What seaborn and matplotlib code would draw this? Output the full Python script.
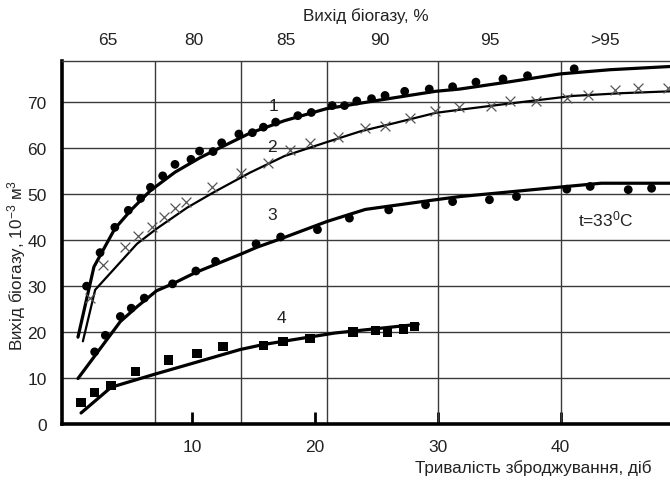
import seaborn as sns
import matplotlib.pyplot as plt
import pandas as pd

# точки експерименту (діб, 10^-3 м3)
s1_x = [1.4, 2.5, 3.7, 4.8, 5.8, 6.6, 7.6, 8.6, 9.9, 10.6, 11.7, 12.4, 13.8, 14.9, 15.8, 16.8,
        18.6, 19.7, 21.4, 22.4, 23.4, 24.6, 25.7, 27.3, 29.3, 31.2, 33.1, 35.3, 37.3, 41.1]
s1_y = [30.0, 37.3, 42.8, 46.5, 49.1, 51.5, 54.0, 56.5, 57.6, 59.4, 59.3, 61.2, 63.1, 63.4, 64.6, 65.7,
        67.1, 67.8, 69.3, 69.3, 70.3, 70.8, 71.5, 72.4, 72.9, 73.4, 74.4, 75.1, 75.8, 77.3]

s2_x = [1.7, 2.7, 4.55, 5.6, 6.7, 7.7, 8.6, 9.5, 11.65, 14.0, 16.2, 18.0, 19.6, 21.9, 24.1, 25.7,
        27.7, 29.8, 31.7, 34.3, 35.9, 38.0, 40.5, 42.2, 44.4, 46.3, 48.7]
s2_y = [27.4, 34.7, 38.5, 41.0, 42.8, 45.0, 46.9, 48.4, 51.5, 54.7, 56.9, 59.6, 61.2, 62.4, 64.4, 64.9,
        66.5, 68.2, 69.0, 69.3, 70.2, 70.2, 70.9, 71.6, 72.6, 73.1, 73.1]

s3_x = [2.06, 2.93, 4.15, 5.04, 6.1, 8.4, 10.3, 11.9, 15.2, 17.2, 20.2, 22.8, 26.0, 29.0, 31.2,
        34.2, 36.4, 40.5, 42.4, 45.5, 47.4]
s3_y = [15.7, 19.3, 23.4, 25.2, 27.4, 30.5, 33.3, 35.4, 39.2, 40.7, 42.3, 44.8, 46.6, 47.7, 48.4,
        48.8, 49.5, 51.1, 51.7, 51.0, 51.3]

s4_x = [0.95, 2.06, 3.4, 5.37, 8.07, 10.4, 12.5, 15.8, 17.4, 19.6, 23.1, 24.9, 25.9, 27.2, 28.1]
s4_y = [4.7, 6.8, 8.4, 11.4, 13.9, 15.3, 16.8, 17.1, 17.9, 18.6, 20.0, 20.4, 20.0, 20.7, 21.2]

# апроксимуючі криві
l1_x = [0.7, 2.0, 3.7, 5.0, 6.6, 8.6, 10.6, 12.4, 14.7, 17.5, 20.9, 25.5, 29.8, 31.8, 35.9, 40.0, 44.0, 48.9]
l1_y = [18.9, 34.2, 42.5, 46.5, 50.8, 54.8, 57.9, 60.3, 63.3, 66.0, 68.6, 70.6, 72.4, 72.9, 74.5, 76.2, 77.1, 77.8]

l2_x = [1.1, 2.1, 3.8, 5.5, 7.1, 9.6, 11.8, 14.7, 17.5, 20.9, 23.7, 26.5, 29.8, 31.8, 36.0, 41.0, 45.0, 48.9]
l2_y = [18.0, 29.2, 34.2, 39.2, 42.5, 47.1, 50.5, 54.7, 58.3, 61.3, 63.7, 65.5, 67.7, 68.4, 69.8, 71.4, 72.0, 72.4]

l3_x = [0.7, 4.15, 5.5, 7.1, 8.4, 10.3, 13.9, 15.3, 17.2, 21.0, 24.1, 29.8, 31.8, 35.0, 40.5, 43.3, 48.9]
l3_y = [9.9, 22.3, 25.5, 29.0, 30.5, 33.0, 36.9, 38.5, 40.3, 44.1, 46.7, 48.8, 49.5, 50.3, 51.7, 52.4, 52.4]

l4_x = [0.95, 3.4, 6.9, 9.5, 13.9, 15.8, 21.6, 28.4]
l4_y = [2.4, 8.0, 10.8, 12.8, 16.2, 17.3, 19.8, 21.7]

x_ticks = [10, 20, 30, 40]
y_ticks = [0, 10, 20, 30, 40, 50, 60, 70]
x_grid = [7, 14, 21, 30, 40]
top_pos = [3.1, 10.1, 17.6, 25.3, 34.2, 43.6]
top_labels = ['65', '80', '85', '90', '95', '>95']

sns.set_theme(style='white')
plt.rcParams['font.family'] = ['Liberation Sans', 'DejaVu Sans']
plt.rcParams['mathtext.fontset'] = 'custom'
plt.rcParams['mathtext.rm'] = 'Liberation Sans'
plt.rcParams['mathtext.it'] = 'Liberation Sans'
plt.rcParams['mathtext.default'] = 'regular'

fig = plt.figure(figsize=(6.7, 4.81), dpi=100)
ax = fig.add_axes([62 / 670, 56 / 481, 608 / 670, 363 / 481])

for xs, ys, lw in [(l1_x, l1_y, 2.3), (l2_x, l2_y, 1.6), (l3_x, l3_y, 2.3), (l4_x, l4_y, 2.3)]:
    d = pd.DataFrame({'x': xs, 'y': ys})
    sns.lineplot(data=d, x='x', y='y', sort=False, estimator=None, color='black', lw=lw, ax=ax, zorder=3)

sns.scatterplot(x=s1_x, y=s1_y, color='black', s=40, marker='o', edgecolor='none', ax=ax, zorder=4)
sns.scatterplot(x=s3_x, y=s3_y, color='black', s=40, marker='o', edgecolor='none', ax=ax, zorder=4)
sns.scatterplot(x=s4_x, y=s4_y, color='black', s=45, marker='s', edgecolor='none', ax=ax, zorder=4)
ax.scatter(s2_x, s2_y, color='#555555', s=50, marker='x', linewidths=0.9, zorder=4)

ax.set_xlim(-0.6, 48.9)
ax.set_ylim(0, 79)

for gx in x_grid:
    ax.axvline(gx, color='#3a3a3a', lw=1.0, zorder=1)
for gy in y_ticks[1:]:
    ax.axhline(gy, color='#3a3a3a', lw=1.0, zorder=1)

ax.set_xticks(x_ticks)
ax.set_yticks(y_ticks)
ax.tick_params(axis='x', direction='in', length=9, width=2, color='black', labelsize=12.5, pad=11)
ax.tick_params(axis='y', length=0, labelsize=12.5, pad=11)
ax.tick_params(axis='both', colors='black', labelcolor='#222222')

ax.spines['left'].set_linewidth(2.6)
ax.spines['bottom'].set_linewidth(2.6)
ax.spines['left'].set_color('black')
ax.spines['bottom'].set_color('black')
ax.spines['top'].set_linewidth(1.0)
ax.spines['top'].set_color('#3a3a3a')
ax.spines['right'].set_visible(False)

ax.set_xlabel('Тривалість зброджування, діб', fontsize=12.3, color='#222222', ha='right', va='center')
ax.xaxis.set_label_coords(0.97, -0.118)
ax.set_ylabel(r'Вихід біогазу, 10$^{-3}$ м$^{3}$', fontsize=12.3, color='#222222', va='center')
ax.yaxis.set_label_coords(-0.074, 0.44)

top = ax.twiny()
top.set_xlim(ax.get_xlim())
top.set_xticks(top_pos)
top.set_xticklabels(top_labels)
top.tick_params(axis='x', length=0, labelsize=12.5, pad=10, labelcolor='#222222')
for sp in top.spines.values():
    sp.set_visible(False)
top.set_xlabel('Вихід біогазу, %', fontsize=12.3, color='#222222', labelpad=9)

for txt, tx, ty in [('1', 16.6, 69.3), ('2', 16.5, 60.3), ('3', 16.5, 45.5), ('4', 17.3, 23.2)]:
    ax.text(tx, ty, txt, fontsize=12.5, ha='center', va='center', color='#222222', zorder=5)
ax.text(43.7, 44.8, r't=33$^{0}$C', fontsize=12.5, ha='center', va='center', color='#222222', zorder=5)

fig.savefig('out.png', dpi=100)
